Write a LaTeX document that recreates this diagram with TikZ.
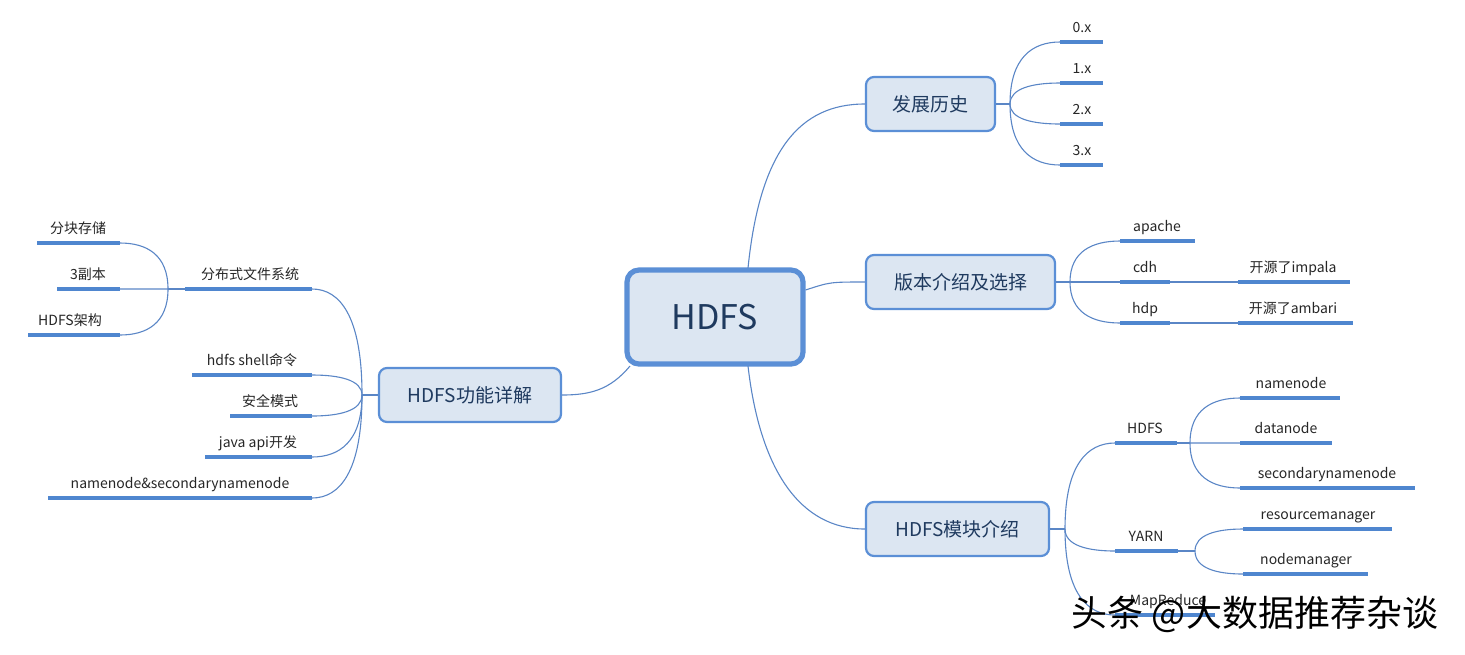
\documentclass[tikz,border=0pt]{standalone}
\usepackage{fontspec}
\usetikzlibrary{calc}
\setmainfont{Noto Sans CJK SC}
\begin{document}
\begin{tikzpicture}[x=0.5pt,y=-0.5pt,
  ul/.style={draw=ulc,line width=1.6pt},
  cn/.style={draw=cnc,line width=0.55pt},
  lab/.style={font=\fontsize{7}{8}\selectfont,text=black!85,inner sep=0pt,anchor=base},
  mbox/.style={draw=boxc,fill=boxf,line width=1.1pt,rounded corners=4pt,font=\fontsize{9.5}{11}\selectfont,text=textc},
]
\definecolor{ulc}{HTML}{4F86CF}
\definecolor{cnc}{HTML}{5A86C6}
\definecolor{boxc}{HTML}{5B8FD6}
\definecolor{boxf}{HTML}{DCE6F2}
\definecolor{textc}{HTML}{1F3A5F}
\useasboundingbox (0,0) rectangle (1465,654);
\newcommand{\leaf}[6]{% name x1 x2 y labelx text
  \coordinate (#1-l) at (#2,#4); \coordinate (#1-r) at (#3,#4);
  \draw[ul] (#1-l) -- (#1-r);
  \node[lab] (#1) at (#5,#4-10) {#6};}
\newcommand{\bcurve}[2]{\draw[cn] (#1) .. controls ($(#1)!0.75!(#1|-#2)$) and ($(#1|-#2)!0.45!(#2)$) .. (#2);}
% boxes
\node[mbox,line width=2.6pt,rounded corners=6pt,font=\fontsize{17}{20}\selectfont,minimum width=88pt,minimum height=47pt] (c) at (715,317) {HDFS};
\node[mbox,minimum width=64.5pt,minimum height=27pt] (h) at (930.5,104) {发展历史};
\node[mbox,minimum width=94.5pt,minimum height=27pt] (v) at (960.5,282) {版本介绍及选择};
\node[mbox,minimum width=91.5pt,minimum height=27pt] (m) at (957.5,529) {HDFS模块介绍};
\node[mbox,minimum width=91pt,minimum height=27pt] (f) at (470,395) {HDFS功能详解};
% center connectors
\coordinate (ct) at (748,268); \coordinate (cb) at (748,366); \coordinate (cl) at (630,366);
\draw[cn] (ct) .. controls (760,150) and (800,104) .. (h.west);
\draw[cn] (c.east |- 0,290) .. controls (830,282) .. (v.west);
\draw[cn] (cb) .. controls (760,470) and (800,529) .. (m.west);
\draw[cn] (cl) .. controls (610,390) and (590,395) .. (f.east);
% history
\coordinate (hb) at (1010,104);
\draw[cn] (h.east) -- (hb);
\leaf{h0}{1060}{1103}{42}{1082}{0.x}
\leaf{h1}{1060}{1103}{83}{1082}{1.x}
\leaf{h2}{1060}{1103}{124}{1082}{2.x}
\leaf{h3}{1060}{1103}{165}{1082}{3.x}
\foreach \n in {h0,h1,h2,h3} {\bcurve{hb}{\n-l}}
% versions
\coordinate (vb) at (1070,282);
\draw[cn] (v.east) -- (vb);
\leaf{va}{1120}{1195}{241}{1157}{apache}
\leaf{vc}{1120}{1170}{282}{1145}{cdh}
\leaf{vh}{1120}{1170}{323}{1145}{hdp}
\leaf{vi}{1238}{1350}{282}{1293}{开源了impala}
\leaf{vm}{1238}{1353}{323}{1293}{开源了ambari}
\foreach \n in {va,vc,vh} {\bcurve{vb}{\n-l}}
\draw[cn] (vc-r) -- (vi-l);
\draw[cn] (vh-r) -- (vm-l);
% modules
\coordinate (mb) at (1065,529);
\draw[cn] (m.east) -- (mb);
\leaf{mh}{1115}{1177}{443}{1145}{HDFS}
\leaf{my}{1115}{1178}{551}{1146}{YARN}
\leaf{mr}{1115}{1215}{615}{1168}{MapReduce}
\foreach \n in {mh,my,mr} {\bcurve{mb}{\n-l}}
\coordinate (hb2) at (1190,443);
\draw[cn] (mh-r) -- (hb2);
\leaf{n1}{1240}{1340}{398}{1291}{namenode}
\leaf{n2}{1240}{1332}{443}{1286}{datanode}
\leaf{n3}{1240}{1415}{488}{1327}{secondarynamenode}
\foreach \n in {n1,n2,n3} {\bcurve{hb2}{\n-l}}
\coordinate (yb) at (1195,551);
\draw[cn] (my-r) -- (yb);
\leaf{y1}{1243}{1392}{529}{1318}{resourcemanager}
\leaf{y2}{1243}{1368}{574}{1306}{nodemanager}
\foreach \n in {y1,y2} {\bcurve{yb}{\n-l}}
% functions
\coordinate (fb) at (362,395);
\draw[cn] (f.west) -- (fb);
\leaf{f1}{185}{312}{289}{250}{分布式文件系统}
\leaf{f2}{192}{312}{375}{252}{hdfs shell命令}
\leaf{f3}{230}{312}{416}{270}{安全模式}
\leaf{f4}{205}{312}{457}{258}{java api开发}
\leaf{f5}{48}{312}{498}{180}{namenode\&secondarynamenode}
\foreach \n in {f1,f2,f3,f4,f5} {\bcurve{fb}{\n-r}}
\coordinate (db) at (168,289);
\draw[cn] (f1-l) -- (db);
\leaf{d1}{37}{120}{243}{78}{分块存储}
\leaf{d2}{57}{120}{289}{88}{3副本}
\leaf{d3}{28}{120}{335}{70}{HDFS架构}
\foreach \n in {d1,d2,d3} {\bcurve{db}{\n-r}}
% watermark
\node[font=\fontsize{18}{20}\selectfont,text=black,inner sep=0pt] (wm) at (1255,614) {头条 @大数据推荐杂谈};
\end{tikzpicture}
\end{document}
